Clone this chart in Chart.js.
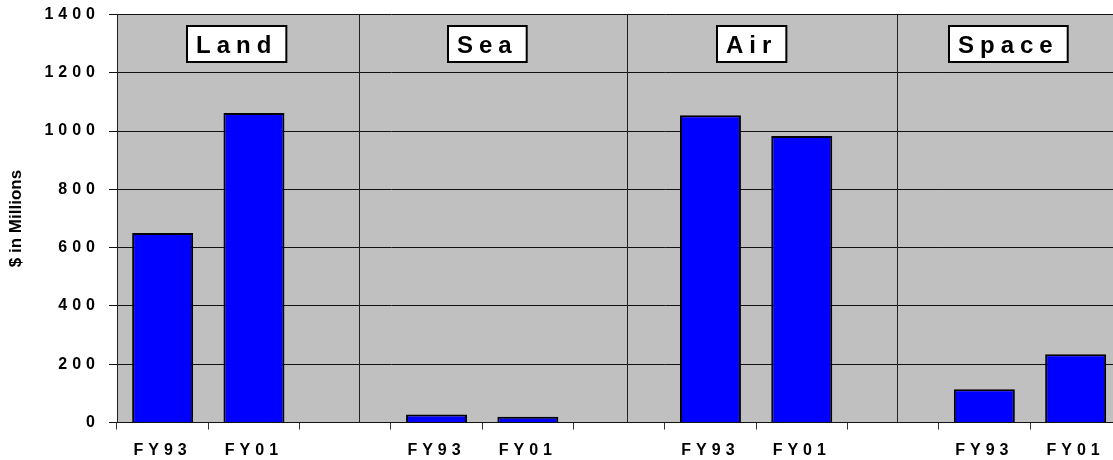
<!DOCTYPE html>
<html><head><meta charset="utf-8">
<script src="https://cdn.jsdelivr.net/npm/chart.js@4/dist/chart.umd.min.js"></script>
<style>html,body{margin:0;padding:0;overflow:hidden;background:#fff;width:1113px;height:460px}canvas{display:block}</style>
</head><body>
<canvas id="c" width="1220" height="460" style="width:1220px;height:460px"></canvas>
<script>
// ---- data ----
const categories = ['FY93','FY01','','FY93','FY01','','FY93','FY01','','FY93','FY01',''];
const fundingValues = [650,1062,null,28,20,null,1054,983,null,114,234,null];
const yTickValues = [0,200,400,600,800,1000,1200,1400];
const groupNames = ['Land','Sea','Air','Space'];
const yAxisTitle = '$ in Millions';

const FONT = "'Liberation Sans', Arial, sans-serif";

const annotationOpts = {
  dividers: [2.151, 5.086, 8.047],      // category-scale positions
  boxCenters: [0.806, 3.56, 6.455, 9.265],
  boxTop: 26, boxHeight: 36, boxPad: 9,
  font: 'bold 24px ' + FONT, spacing: '6px'
};

const spacingPlugin = {
  id: 'spacing',
  afterDatasetsDraw(chart) { chart.ctx.letterSpacing = '5px'; },
  afterDraw(chart) { chart.ctx.letterSpacing = '0px'; }
};

const groupPlugin = {
  id: 'groups',
  beforeDatasetsDraw(chart) {
    const {ctx, chartArea, scales: {x}} = chart;
    ctx.save();
    ctx.strokeStyle = '#222';
    ctx.lineWidth = 1;
    annotationOpts.dividers.forEach(v => {
      const px = Math.round(x.getPixelForValue(v)) + 0.5;
      ctx.beginPath();
      ctx.moveTo(px, chartArea.top);
      ctx.lineTo(px, chartArea.bottom);
      ctx.stroke();
    });
    ctx.restore();
  },
  afterDraw(chart) {
    const {ctx, scales: {x}} = chart;
    const o = annotationOpts;
    ctx.save();
    ctx.font = o.font;
    ctx.letterSpacing = o.spacing;
    groupNames.forEach((name, i) => {
      const cx = x.getPixelForValue(o.boxCenters[i]);
      const w = ctx.measureText(name).width + 2 * o.boxPad;
      const left = Math.round(cx - w / 2);
      ctx.fillStyle = '#fff';
      ctx.fillRect(left, o.boxTop, w, o.boxHeight);
      ctx.strokeStyle = '#000';
      ctx.lineWidth = 2;
      ctx.strokeRect(left, o.boxTop, w, o.boxHeight);
      ctx.fillStyle = '#000';
      ctx.textAlign = 'left';
      ctx.textBaseline = 'alphabetic';
      ctx.fillText(name, left + o.boxPad, o.boxTop + 26.5);
    });
    ctx.letterSpacing = '0px';
    ctx.restore();
  }
};

const bgPlugin = {
  id: 'plotbg',
  beforeDraw(chart) {
    const {ctx, chartArea: a} = chart;
    ctx.save();
    ctx.fillStyle = '#C0C0C0';
    ctx.fillRect(a.left, a.top, a.right - a.left, a.bottom - a.top);
    ctx.restore();
  }
};

new Chart(document.getElementById('c'), {
  type: 'bar',
  data: {
    labels: categories,
    datasets: [{
      data: fundingValues,
      backgroundColor: '#0000FF',
      borderColor: '#000',
      borderWidth: 2,
      categoryPercentage: 1,
      barPercentage: 0.668
    }]
  },
  options: {
    responsive: false,
    animation: false,
    devicePixelRatio: 1,
    layout: { padding: { top: 14.4, left: 0, right: 7.4, bottom: 0 } },
    plugins: { legend: { display: false }, tooltip: { enabled: false } },
    scales: {
      x: {
        afterFit(s) { s.height = 37.4; s.paddingLeft = 0; s.paddingRight = 0; },
        grid: { offset: true, drawOnChartArea: false, drawTicks: true, tickLength: 7, color: '#333', lineWidth: 1 },
        border: { display: true, color: '#111', width: 1 },
        ticks: { z: 1, color: '#000', padding: 11, maxRotation: 0, autoSkip: false,
                 font: { family: FONT, size: 16, weight: 'bold' } }
      },
      y: {
        min: 0, max: 1400,
        afterFit(s) { s.width = 117; s.paddingTop = 0; s.paddingBottom = 0; },
        afterBuildTicks(s) { s.ticks = yTickValues.map(v => ({ value: v })); },
        grid: { color: '#111', lineWidth: 1, drawTicks: true, tickLength: 8 },
        border: { display: true, color: '#222', width: 1 },
        ticks: { z: 1, color: '#000', padding: 9, callback: v => String(v),
                 font: { family: FONT, size: 16, weight: 'bold' } },
        title: { display: true, text: yAxisTitle, color: '#000', padding: { top: 6, bottom: 0 },
                 font: { family: FONT, size: 17, weight: 'bold' } }
      }
    }
  },
  plugins: [bgPlugin, groupPlugin, spacingPlugin]
});
</script>
</body></html>
